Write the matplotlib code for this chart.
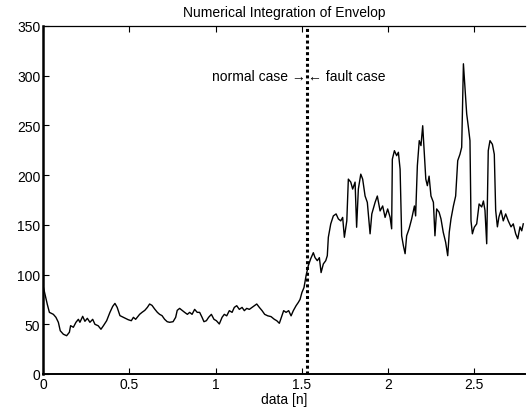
"""
Numerical integration of envelope - normal vs fault case
"""

import matplotlib
matplotlib.use("Agg")
import matplotlib.pyplot as plt

# values
t = [0.000, 0.012, 0.025, 0.037, 0.060, 0.075, 0.089, 0.100, 0.118, 0.137,
     0.153, 0.160, 0.176, 0.191, 0.205, 0.214, 0.230, 0.243, 0.257, 0.272,
     0.288, 0.301, 0.320, 0.336, 0.350, 0.369, 0.388, 0.404, 0.417, 0.430,
     0.446, 0.466, 0.494, 0.512, 0.524, 0.537, 0.560, 0.574, 0.590, 0.605,
     0.618, 0.632, 0.647, 0.663, 0.676, 0.690, 0.705, 0.720, 0.734, 0.754,
     0.769, 0.778, 0.792, 0.806, 0.821, 0.837, 0.850, 0.864, 0.879, 0.894,
     0.908, 0.922, 0.933, 0.947, 0.960, 0.976, 0.991, 1.005, 1.022, 1.038,
     1.051, 1.065, 1.080, 1.096, 1.109, 1.123, 1.138, 1.154, 1.167, 1.181,
     1.196, 1.212, 1.225, 1.239, 1.254, 1.270, 1.285, 1.303, 1.322, 1.341,
     1.355, 1.370, 1.382, 1.395, 1.409, 1.424, 1.438, 1.451, 1.467, 1.480,
     1.490, 1.501, 1.513, 1.525, 1.538, 1.552, 1.567, 1.577, 1.590, 1.602,
     1.612, 1.625, 1.639, 1.648, 1.654, 1.668, 1.683, 1.699, 1.712, 1.726,
     1.737, 1.747, 1.761, 1.770, 1.784, 1.795, 1.809, 1.818, 1.828, 1.842,
     1.853, 1.867, 1.880, 1.896, 1.906, 1.925, 1.938, 1.954, 1.969, 1.983,
     1.998, 2.012, 2.021, 2.025, 2.037, 2.050, 2.060, 2.070, 2.079, 2.089,
     2.099, 2.108, 2.122, 2.137, 2.153, 2.160, 2.170, 2.181, 2.191, 2.201,
     2.210, 2.219, 2.228, 2.238, 2.249, 2.263, 2.272, 2.282, 2.296, 2.307,
     2.320, 2.334, 2.346, 2.355, 2.365, 2.379, 2.392, 2.404, 2.417, 2.427,
     2.437, 2.446, 2.456, 2.466, 2.475, 2.481, 2.489, 2.500, 2.514, 2.528,
     2.543, 2.553, 2.562, 2.572, 2.581, 2.591, 2.605, 2.616, 2.624, 2.634,
     2.643, 2.655, 2.668, 2.682, 2.697, 2.713, 2.726, 2.740, 2.752, 2.765,
     2.775, 2.784]
envelop = [89, 80, 70, 62, 60, 57, 52, 43.5, 40, 38.5,
           42, 48.6, 47, 52, 55, 52, 58, 53, 56, 52,
           55, 50, 48.5, 45, 48.5, 53.6, 62, 68, 71, 67,
           58.7, 57, 54.6, 53.6, 57, 55, 60, 62, 64, 67,
           70.4, 69, 65.4, 62, 60, 58.7, 55, 52.6, 52, 52.6,
           57, 64, 66, 64, 62, 60, 62, 60, 65, 62,
           62, 57, 52.6, 53.6, 57, 60, 55, 53.6, 50.3, 57,
           60, 58.5, 63.7, 62, 67, 68.7, 65, 67, 63.7, 66,
           65, 67, 68.7, 70.4, 67, 63.7, 60, 58.5, 57.7, 55,
           53.6, 51, 57, 63.7, 62, 63.7, 58.5, 63.7, 68.7, 72,
           75, 82, 87, 99, 109, 116, 122, 117, 114, 117,
           102, 110.7, 114, 119, 137.5, 151, 159, 161, 156, 154,
           157.5, 137.5, 154, 196, 193, 186, 193, 147.6, 186, 201,
           196, 179, 172.6, 141, 161, 172.6, 179, 164, 169, 157.5,
           166, 157.6, 146, 216, 224.6, 219.6, 223, 206, 139, 129,
           121, 139, 146, 156, 169, 159, 209.5, 234.7, 229.7, 249.7,
           223, 196, 189.4, 199, 179, 172.7, 139, 166, 162.7, 156,
           142.6, 132.5, 119, 142.6, 156, 169, 179, 214.6, 221, 228,
           312, 288, 261.6, 248, 234.7, 154, 141, 147.6, 151, 171,
           168, 174, 164.6, 131, 224.6, 234.7, 231, 221, 164.6, 148,
           158, 164.6, 154, 161, 154, 148, 151, 141, 136, 148,
           144, 151]
fault_start = 1.53

plt.rcParams['font.family'] = ['Liberation Sans', 'DejaVu Sans']
fs = 10

fig = plt.figure(figsize=(5.28, 4.10), dpi=100)
ax = fig.add_axes([43 / 528, 35 / 410, 482 / 528, 348 / 410])

ax.plot(t, envelop, color='black', linewidth=1.0)
ax.plot([fault_start, fault_start], [0, 350], color='black',
        linestyle=(0, (1, 0.9)), linewidth=2.2)

ax.text(fault_start - 0.005, 300, 'normal case \u2192', ha='right', va='center', fontsize=fs)
ax.text(fault_start + 0.005, 300, '\u2190 fault case', ha='left', va='center', fontsize=fs)

ax.set_xlim(0, 2.794)
ax.set_ylim(0, 350)
ax.set_xticks([0, 0.5, 1, 1.5, 2, 2.5])
ax.set_xticklabels(['0', '0.5', '1', '1.5', '2', '2.5'])
ax.set_yticks([0, 50, 100, 150, 200, 250, 300, 350])
ax.tick_params(direction='in', length=4, width=0.8, labelsize=fs, top=True,
               right=False, pad=2)

ax.spines['right'].set_visible(False)
ax.spines['left'].set_linewidth(1.8)
ax.spines['bottom'].set_linewidth(1.4)
ax.spines['top'].set_linewidth(0.9)

ax.set_title('Numerical Integration of Envelop', fontsize=fs, pad=7)
ax.set_xlabel('data [n]', fontsize=fs, labelpad=1)

fig.savefig('out.png', dpi=100)
